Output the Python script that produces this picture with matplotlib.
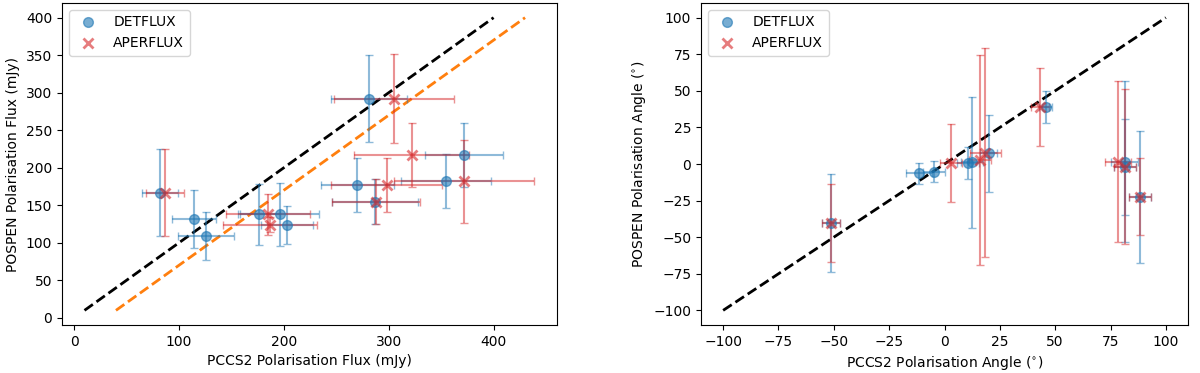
import matplotlib
matplotlib.use("Agg")
import matplotlib.pyplot as plt

# ---- flux panel (mJy) ----
det_flux_x = [82, 114, 126, 176, 196, 203, 270, 281, 287, 355, 372]
det_flux_y = [167, 132, 109, 138, 138, 124, 177, 292, 155, 182, 217]
det_flux_xerr = [17, 21, 27, 20, 38, 25, 35, 36, 41, 43, 37]
det_flux_yerr = [58, 39, 32, 41, 42, 25, 36, 58, 30, 36, 43]

aper_flux_x = [87, 185, 187, 288, 298, 305, 322, 372]
aper_flux_y = [167, 138, 124, 155, 177, 292, 217, 182]
aper_flux_xerr = [18, 40, 45, 42, 53, 57, 55, 67]
aper_flux_yerr = [58, 27, 10, 30, 36, 59, 43, 55]

# ---- angle panel (deg) ----
det_ang_x = [-51.3, -11.5, -4.8, 10.8, 12.4, 19.9, 45.7, 81.4, 81.4, 88.5]
det_ang_y = [-40.4, -6.4, -5.2, 0.9, 1.2, 7.3, 39.1, 1.6, -2.0, -22.3]
det_ang_xerr = [4, 6, 5, 5, 5, 4, 3, 6, 5, 5]
det_ang_yerr = [33.5, 7, 7, 11, 44.7, 26.4, 11, 55, 33, 45]

aper_ang_x = [-51.3, 3, 16, 18.4, 43.2, 78.4, 81.4, 88.5]
aper_ang_y = [-40.4, 0.9, 2.7, 7.7, 39.1, 1.6, -1.8, -22.3]
aper_ang_xerr = [4, 5, 5, 7, 4, 6, 5, 5]
aper_ang_yerr = [26.7, 26.7, 71.5, 71.3, 26.6, 55, 53, 26.4]

# reference lines
one_to_one_flux = [10, 400]
offset_flux_x = [40, 430]
offset_flux_y = [10, 400]
one_to_one_ang = [-100, 100]

fig = plt.figure(figsize=(12, 3.73), dpi=100)
ax1 = fig.add_axes([62/1200, 1 - 325/373, (557 - 62)/1200, (325 - 3)/373])
ax2 = fig.add_axes([701/1200, 1 - 325/373, (1188 - 701)/1200, (325 - 3)/373])


def draw(ax, dx, dy, dxe, dye, ax_, ay, axe, aye):
    ax.errorbar(dx, dy, xerr=dxe, yerr=dye, fmt='none', ecolor='tab:blue',
                alpha=0.5, capsize=3, elinewidth=1.5)
    ax.errorbar(ax_, ay, xerr=axe, yerr=aye, fmt='none', ecolor='tab:red',
                alpha=0.5, capsize=3, elinewidth=1.5)
    ax.plot(dx, dy, 'o', color='tab:blue', alpha=0.6, markersize=7,
            linestyle='none', label='DETFLUX')
    ax.plot(ax_, ay, 'x', color='tab:red', alpha=0.6, markersize=7,
            markeredgewidth=2, linestyle='none', label='APERFLUX')


ax1.plot(one_to_one_flux, one_to_one_flux, 'k--', lw=2)
ax1.plot(offset_flux_x, offset_flux_y, '--', color='tab:orange', lw=2)
draw(ax1, det_flux_x, det_flux_y, det_flux_xerr, det_flux_yerr,
     aper_flux_x, aper_flux_y, aper_flux_xerr, aper_flux_yerr)
ax1.set_xlabel('PCCS2 Polarisation Flux (mJy)')
ax1.set_ylabel('POSPEN Polarisation Flux (mJy)')
ax1.legend(loc='upper left')

ax2.plot(one_to_one_ang, one_to_one_ang, 'k--', lw=2)
draw(ax2, det_ang_x, det_ang_y, det_ang_xerr, det_ang_yerr,
     aper_ang_x, aper_ang_y, aper_ang_xerr, aper_ang_yerr)
ax2.set_xlabel('PCCS2 Polarisation Angle ($^{\\circ}$)')
ax2.set_ylabel('POSPEN Polarisation Angle ($^{\\circ}$)')
ax2.set_xticks(range(-100, 101, 25))
ax2.set_yticks(range(-100, 101, 25))
ax2.legend(loc='upper left')

fig.savefig('out.png', dpi=100)
